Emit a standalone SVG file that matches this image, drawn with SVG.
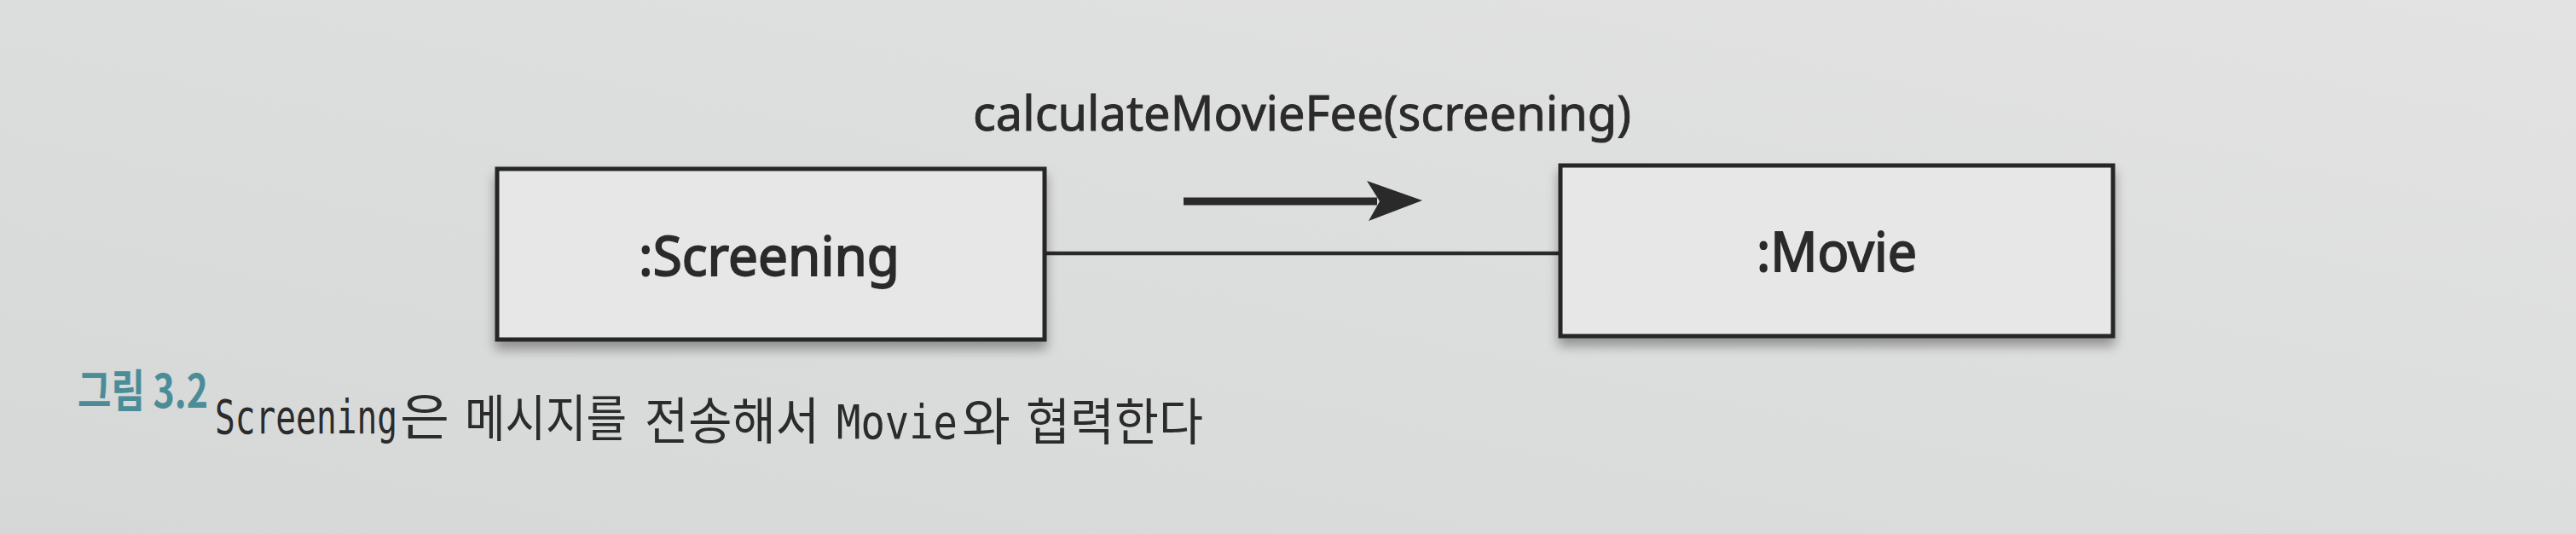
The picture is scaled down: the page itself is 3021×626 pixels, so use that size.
<svg xmlns="http://www.w3.org/2000/svg" width="3021" height="626" viewBox="0 0 3021 626">
  <defs>
    <linearGradient id="bg" x1="0" y1="1" x2="1" y2="0">
      <stop offset="0" stop-color="#d6d7d7"/>
      <stop offset="0.5" stop-color="#dcdddd"/>
      <stop offset="1" stop-color="#e3e3e3"/>
    </linearGradient>
    <filter id="shadow" x="-5%" y="-10%" width="110%" height="130%">
      <feGaussianBlur in="SourceAlpha" stdDeviation="7"/>
      <feOffset dy="9" result="b"/>
      <feComponentTransfer><feFuncA type="linear" slope="0.35"/></feComponentTransfer>
      <feMerge><feMergeNode/><feMergeNode in="SourceGraphic"/></feMerge>
    </filter>
    <style>
      .box { fill: #e7e7e7; stroke: #262626; stroke-width: 5; }
      .lbl { font-family: "Noto Sans", "Open Sans", sans-serif; fill: #2b2b2b; stroke: #2b2b2b; }
      .node { font-size: 63px; text-anchor: middle; stroke-width: 1.8; }
      .msg { font-size: 57px; stroke-width: 0.9; }
      .conn { stroke: #2a2a2a; stroke-width: 4.5; fill: none; }
      .capnum { font-family: "Noto Sans CJK KR", "Noto Sans", sans-serif; font-weight: bold; font-size: 42px; fill: #4a8c97; }
      .mono { font-family: "DejaVu Sans Mono", "Liberation Mono", monospace; font-size: 40px; fill: #2b2b2b; }
      .kr { font-family: "Noto Sans CJK KR", sans-serif; font-size: 48px; fill: #2b2b2b; }
    </style>
  </defs>

  <rect x="0" y="0" width="3021" height="626" fill="url(#bg)"/>

  <g id="connectors">
    <line class="conn" x1="1227" y1="297" x2="1830" y2="297"/>
    <g id="message">
      <line x1="1388" y1="236" x2="1615" y2="236" stroke="#2a2a2a" stroke-width="9"/>
      <path d="M1603,212 L1668,235 L1605,259 L1618,236 Z" fill="#2a2a2a"/>
      <text class="lbl msg" x="1141" y="153" textLength="772" lengthAdjust="spacingAndGlyphs">calculateMovieFee(screening)</text>
    </g>
  </g>

  <g id="screening" filter="url(#shadow)">
    <rect class="box" x="583" y="198" width="642" height="200"/>
    <text class="lbl node" x="902" y="323" textLength="306" lengthAdjust="spacingAndGlyphs">:Screening</text>
  </g>

  <g id="movie" filter="url(#shadow)">
    <rect class="box" x="1830" y="194" width="648" height="200"/>
    <text class="lbl node" x="2154" y="318" textLength="188" lengthAdjust="spacingAndGlyphs">:Movie</text>
  </g>

  <g id="caption">
    <text class="capnum" transform="translate(91,478) scale(1,1.28)" textLength="153" lengthAdjust="spacingAndGlyphs">그림 3.2</text>
    <text class="mono" transform="translate(252,508) scale(1,1.38)" textLength="214" lengthAdjust="spacingAndGlyphs">Screening</text>
    <text class="kr" transform="translate(469,510) scale(1,1.22)" textLength="58" lengthAdjust="spacingAndGlyphs">은</text>
    <text class="kr" transform="translate(545,512) scale(1,1.22)" textLength="190" lengthAdjust="spacingAndGlyphs">메시지를</text>
    <text class="kr" transform="translate(756,515) scale(1,1.22)" textLength="205" lengthAdjust="spacingAndGlyphs">전송해서</text>
    <text class="mono" transform="translate(981,514) scale(1,1.38)" textLength="142" lengthAdjust="spacingAndGlyphs">Movie</text>
    <text class="kr" transform="translate(1128,516) scale(1,1.22)" textLength="57" lengthAdjust="spacingAndGlyphs">와</text>
    <text class="kr" transform="translate(1203,516) scale(1,1.22)" textLength="208" lengthAdjust="spacingAndGlyphs">협력한다</text>
  </g>
</svg>
